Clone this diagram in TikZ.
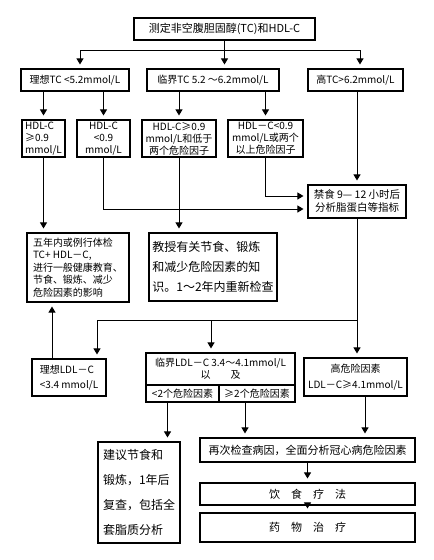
\documentclass[tikz,border=0pt]{standalone}
\usepackage{fontspec}
\usepackage{tikz}
\usetikzlibrary{arrows.meta}
\newfontfamily\cjk{Noto Sans CJK SC}

\begin{document}
\begin{tikzpicture}[
        x=1pt, y=-1pt,
        box/.style={draw, line width=1.1pt, inner sep=1pt, align=center, font=\cjk\fontsize{10}{12}\selectfont},
        wh/.style 2 args={minimum width=#1, minimum height=#2},
        link/.style={line width=1pt},
        arr/.style={link, -{Triangle[width=7pt,length=6pt]}, shorten >=4pt}
    ]
    \useasboundingbox (0,0) rectangle (434,560);

    % first rows
    \node[box, wh={181pt}{22pt}, font=\cjk\fontsize{11}{13}\selectfont] (top) at (224.5,29) {测定非空腹胆固醇(TC)和HDL-C};
    \node[box, wh={108pt}{22pt}] (tcLow) at (75,80) {理想TC <5.2mmol/L};
    \node[box, wh={132pt}{22pt}] (tcMid) at (213,80) {临界TC 5.2 ～6.2mmol/L};
    \node[box, wh={95pt}{22pt}] (tcHigh) at (355.5,80) {高TC>6.2mmol/L};

    \node[box, wh={43pt}{37pt}, align=left] (hdlA) at (43.5,138.5) {HDL-C\\≥0.9\\mmol/L};
    \node[box, wh={53pt}{37pt}] (hdlB) at (103.5,138.5) {HDL-C\\<0.9\\mmol/L};
    \node[box, wh={74pt}{37pt}] (hdlC) at (179,138.5) {HDL-C≥0.9\\mmol/L和低于\\两个危险因子};
    \node[box, wh={75pt}{37pt}] (hdlD) at (265.5,138.5) {HDL－C<0.9\\mmol/L或两个\\以上危险因子};

    \node[box, wh={98pt}{33pt}, font=\cjk\fontsize{10.5}{13}\selectfont] (fast) at (357,201.5) {禁食 9— 12 小时后\\分析脂蛋白等指标};

    \node[box, wh={102pt}{69pt}, align=left, font=\cjk\fontsize{10}{12.5}\selectfont] (routine) at (78,267.5) {五年内或例行体检\\TC+ HDL－C,\\进行一般健康教育、\\节食、锻炼、减少\\危险因素的影响};
    \node[box, wh={128pt}{68pt}, align=left, font=\cjk\fontsize{12}{20}\selectfont] (teach) at (213,267) {教授有关节食、锻炼\\和减少危险因素的知\\识。1～2年内重新检查};

    % LDL rows
    \node[box, wh={74pt}{37pt}, align=left, font=\cjk\fontsize{10}{15}\selectfont] (ldlLow) at (69,377.5) {理想LDL－C\\<3.4 mmol/L};
    \node[box, wh={149pt}{32pt}] (ldlMid) at (220.5,369) {临界LDL－C 3.4～4.1mmol/L\\以　　及};
    \node[box, wh={73pt}{17pt}] (riskFew) at (182.5,393.5) {<2个危险因素};
    \node[box, wh={76pt}{17pt}] (riskMany) at (257,393.5) {≥2个危险因素};
    \node[box, wh={103pt}{38pt}, font=\cjk\fontsize{10}{16}\selectfont] (ldlHigh) at (355.5,377) {高危险因素\\LDL－C≥4.1mmol/L};

    \node[box, wh={82pt}{101pt}, align=left, font=\cjk\fontsize{12}{25}\selectfont] (advice) at (139,492.5) {建议节食和\\锻炼，1年后\\复查，包括全\\套脂质分析};
    \node[box, wh={215pt}{24pt}, font=\cjk\fontsize{11}{13}\selectfont] (recheck) at (307.5,450) {再次检查病因，全面分析冠心病危险因素};
    \node[box, wh={215pt}{22pt}, font=\cjk\fontsize{11}{13}\selectfont] (diet) at (307.5,494) {饮　食　疗　法};
    \node[box, wh={215pt}{29pt}, font=\cjk\fontsize{11}{13}\selectfont] (drug) at (307.5,527.5) {药　物　治　疗};

    % connectors
    \coordinate (split) at (top.south |- 0,50);
    \coordinate (fork) at (fast.south |- 0,320);
    \draw[arr] (split) -| ([xshift=5pt]tcLow.north);
    \draw[arr] (split) -| ([xshift=4.5pt]tcHigh.north);
    \draw[arr] (top.south) -- (top.south |- tcMid.north);

    \draw[arr] (tcLow.south -| hdlA.north) -- (hdlA.north);
    \draw[arr] (tcLow.south -| hdlB.north) -- (hdlB.north);
    \draw[arr] (tcMid.south -| hdlC.north) -- (hdlC.north);
    \draw[arr] (tcMid.south -| hdlD.north) -- (hdlD.north);
    \draw[arr] (tcHigh.south -| fast.north) -- (fast.north);

    \draw[arr] (hdlD.south) |- ([yshift=5.5pt]fast.west);
    \draw[arr] (hdlB.south) |- ([yshift=-7.5pt]fast.west);
    \draw[arr] (hdlA.south) -- (hdlA.south |- routine.north);
    \draw[arr] (hdlC.south) -- (hdlC.south |- teach.north);

    \draw[arr] (fast.south) -- (fork) -| ([xshift=28pt]ldlLow.north);
    \draw[arr] ([xshift=-9.5pt]ldlMid.north |- fork) -- ([xshift=-9.5pt]ldlMid.north);
    \draw[arr] (fork) -- (fork |- ldlHigh.north);
    \draw[arr] ([xshift=-17pt]ldlLow.north) -- ([xshift=-17pt]ldlLow.north |- routine.south);

    \draw[arr] ([xshift=-15pt]riskFew.south) -- ([xshift=-15pt]riskFew.south |- advice.north);
    \draw[arr] ([xshift=-12pt]riskMany.south) -- ([xshift=-12pt]riskMany.south |- recheck.north);
    \draw[arr] ([xshift=9.5pt]ldlHigh.south) -- ([xshift=9.5pt]ldlHigh.south |- recheck.north);
    \draw[arr] (recheck) -- (diet);
    \draw[arr] (diet) -- (drug);

\end{tikzpicture}
\end{document}
